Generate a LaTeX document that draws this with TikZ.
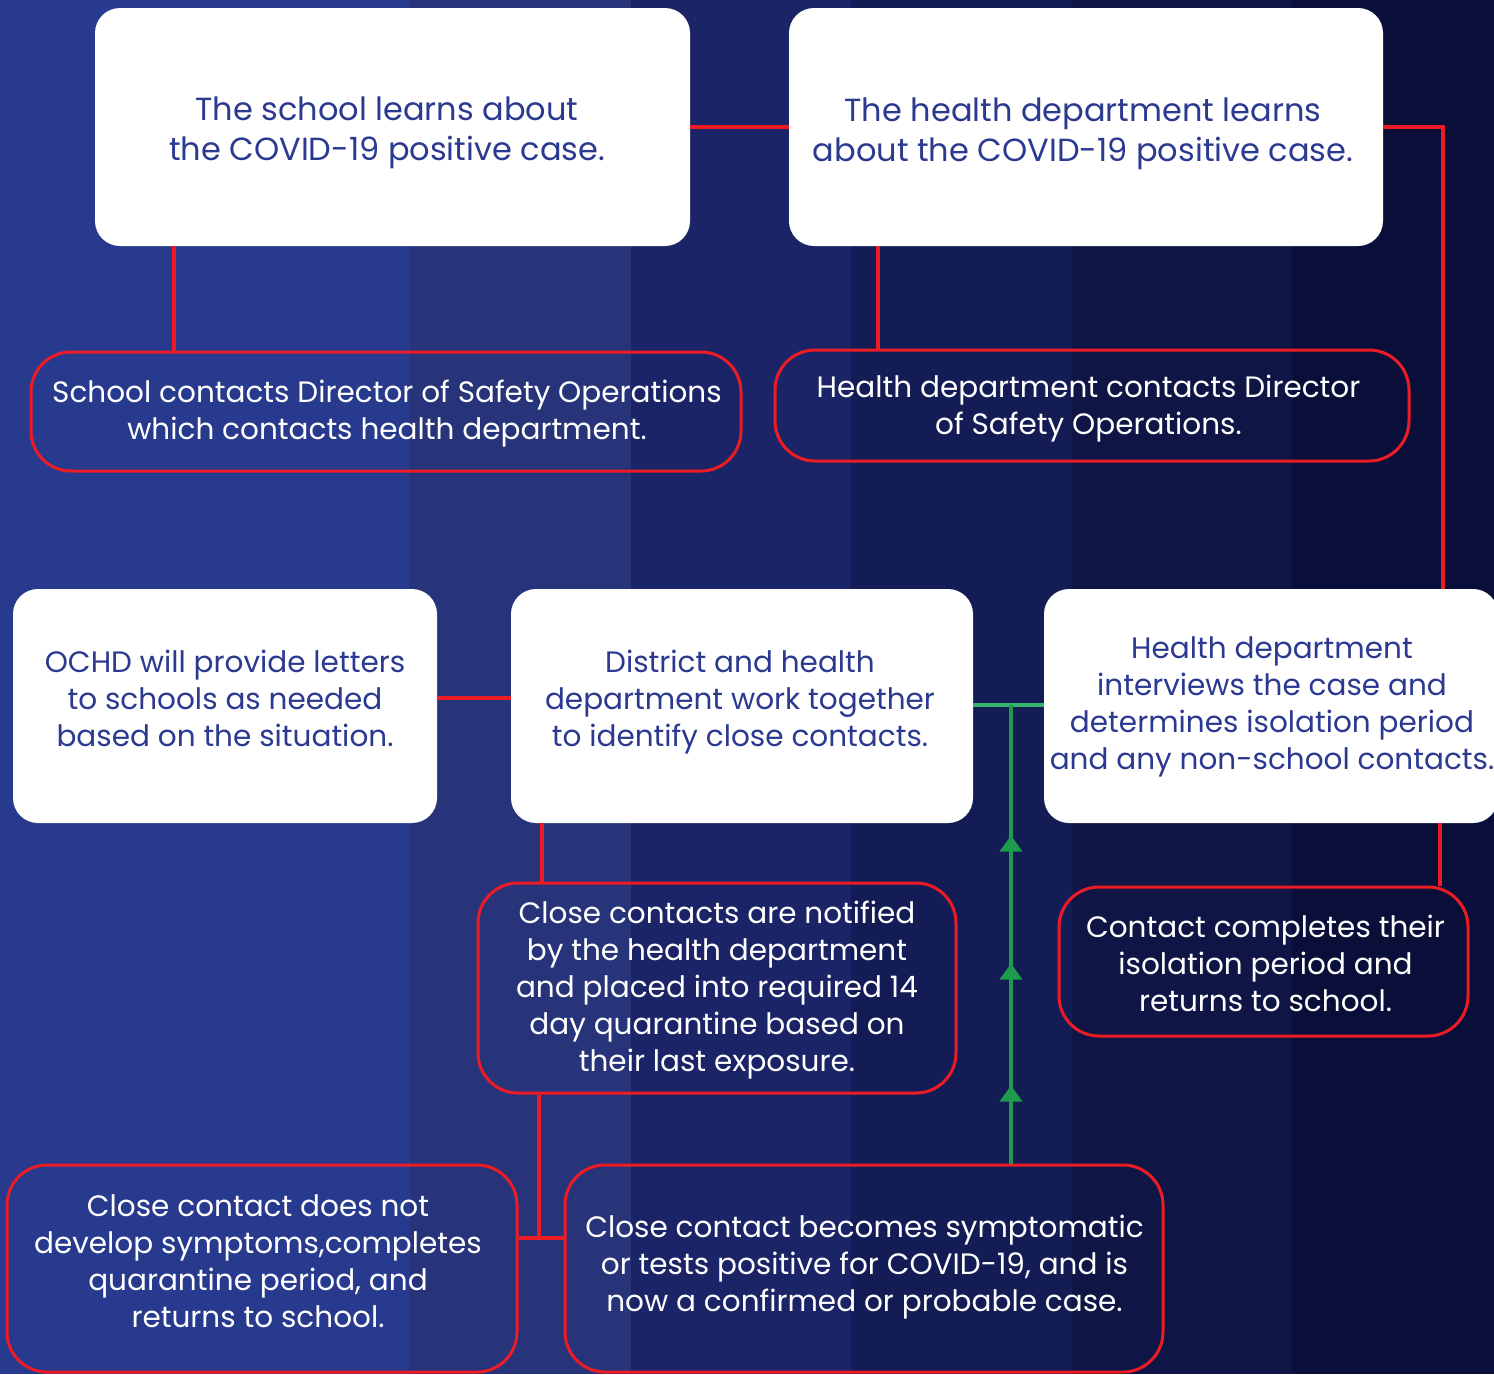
\documentclass[tikz,border=0pt]{standalone}
\usepackage{fontspec}
\setmainfont{Poppins}
\usetikzlibrary{arrows.meta,decorations.markings,calc}
\definecolor{bgA}{HTML}{283A8E}
\definecolor{bgB}{HTML}{27347A}
\definecolor{bgC}{HTML}{1B2467}
\definecolor{bgD}{HTML}{141C55}
\definecolor{bgE}{HTML}{0F1545}
\definecolor{bgF}{HTML}{0A0F3A}
\definecolor{cred}{HTML}{ED1C24}
\definecolor{cgreen}{HTML}{1D9A4C}
\definecolor{cgreenl}{HTML}{33B56E}
\definecolor{tblue}{HTML}{2B3990}
\begin{document}
\begin{tikzpicture}[x=1pt,y=-1pt,
  wbox/.style={draw=none,fill=white,rounded corners=25pt,inner sep=0pt},
  rbox/.style={draw=cred,line width=3pt,rounded corners=40pt,inner sep=0pt},
  wtext/.style={inner sep=0pt,align=center,text=tblue},
  rtext/.style={inner sep=0pt,align=center,text=white},
  bigtxt/.style={font=\fontsize{32}{40}\selectfont},
  txt/.style={font=\fontsize{29.5}{37}\selectfont},
  rline/.style={draw=cred,line width=4pt},
  gline/.style={draw=cgreen,line width=4pt}]
\useasboundingbox (0,0) rectangle (1494,1374);
\clip (0,0) rectangle (1494,1374);
% background stripes
\fill[bgA] (0,0) rectangle (410,1374);
\fill[bgB] (410,0) rectangle (631,1374);
\fill[bgC] (631,0) rectangle (851,1374);
\fill[bgD] (851,0) rectangle (1072,1374);
\fill[bgE] (1072,0) rectangle (1292,1374);
\fill[bgF] (1292,0) rectangle (1494,1374);
\coordinate (hj) at (539,1238);
\coordinate (gj) at (1011,705);
% boxes
\node[wbox,minimum width=595pt,minimum height=238pt] (A) at (392.5,127) {};
\node[wbox,minimum width=594pt,minimum height=238pt] (B) at (1086,127) {};
\node[rbox,minimum width=710pt,minimum height=119pt] (C) at (386,411.5) {};
\node[rbox,minimum width=634pt,minimum height=111pt] (D) at (1092,405.5) {};
\node[wbox,minimum width=424pt,minimum height=234pt] (E) at (225,706) {};
\node[wbox,minimum width=462pt,minimum height=234pt] (F) at (742,706) {};
\node[wbox,minimum width=454pt,minimum height=234pt] (G) at (1271,706) {};
\node[rbox,minimum width=478pt,minimum height=210pt] (H) at (717,988) {};
\node[rbox,minimum width=409pt,minimum height=149pt] (I) at (1263.5,961.5) {};
\node[rbox,minimum width=510pt,minimum height=207pt] (J) at (262,1268.5) {};
\node[rbox,minimum width=598pt,minimum height=207pt] (K) at (864,1268.5) {};
% texts
\node[wtext,bigtxt] (At) at (387,133)
  {The school learns about\\the COVID-19 positive case.};
\node[wtext,bigtxt] (Bt) at (1083,134)
  {The health department learns\\about the COVID-19 positive case.};
\node[rtext,txt] (Ct) at (387,413.5)
  {School contacts Director of Safety Operations\\which contacts health department.};
\node[rtext,txt] (Dt) at (1088.5,408.5)
  {Health department contacts Director\\of Safety Operations.};
\node[wtext,txt] (Et) at (225,698)
  {OCHD will provide letters\\to schools as needed\\based on the situation.};
\node[wtext,txt] (Ft) at (740,702)
  {District and health\\department work together\\to identify close contacts.};
\node[wtext,txt] (Gt) at (1272,706.5)
  {Health department\\interviews the case and\\determines isolation period\\and any non-school contacts.};
\node[rtext,txt] (Ht) at (717,990.5)
  {Close contacts are notified\\by the health department\\and placed into required 14\\day quarantine based on\\their last exposure.};
\node[rtext,txt] (It) at (1265.5,963)
  {Contact completes their\\isolation period and\\returns to school.};
\node[rtext,txt] (Jt) at (258,1261)
  {Close contact does not\\develop symptoms,completes\\quarantine period, and\\returns to school.};
\node[rtext,txt] (Kt) at (864.5,1267)
  {Close contact becomes symptomatic\\or tests positive for COVID-19, and is\\now a confirmed or probable case.};
% red connectors
\draw[rline] (A.east) -- (B.west);
\draw[rline] (B.east) -| ([xshift=172pt]G.north);
\draw[rline] ([xshift=-218.5pt]A.south) -- ([xshift=-218.5pt]A.south |- C.north);
\draw[rline] ([xshift=-208pt]B.south) -- ([xshift=-208pt]B.south |- D.north);
\draw[rline] ([yshift=8pt]E.east) -- ([yshift=8pt]F.west);
\draw[rline] ([xshift=-200pt]F.south) -- ([xshift=-200pt]F.south |- H.north);
\draw[rline] ([xshift=169pt]G.south) -- ([xshift=169pt]G.south |- I.north);
\draw[rline] (H.south -| hj) -- (hj);
\draw[rline] (hj -| J.east) -- (hj -| K.west);
% green connectors
\draw[draw=cgreenl,line width=4pt] (F.east |- gj) -- (G.west |- gj);
\draw[gline,postaction={decorate},decoration={markings,
   mark=at position 78pt with {\arrow{Triangle[width=22pt,length=16pt]}},
   mark=at position 200pt with {\arrow{Triangle[width=22pt,length=16pt]}},
   mark=at position 328pt with {\arrow{Triangle[width=22pt,length=16pt]}}}]
   (K.north -| gj) -- (gj);
\end{tikzpicture}
\end{document}
